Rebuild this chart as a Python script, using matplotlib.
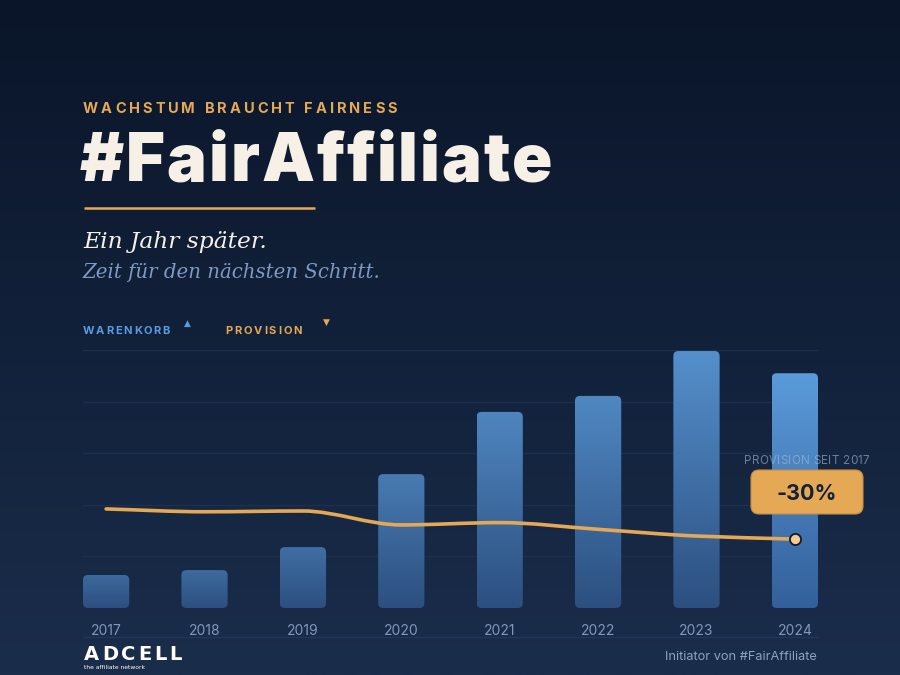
import numpy as np
import matplotlib
matplotlib.use("Agg")
import matplotlib.pyplot as plt
from matplotlib.patches import FancyBboxPatch, PathPatch
from matplotlib.path import Path
from matplotlib.colors import LinearSegmentedColormap, to_rgb

# Daten (Index: 2023 = ~100)
years = ['2017', '2018', '2019', '2020', '2021', '2022', '2023', '2024']
warenkorb = [12.8, 14.7, 23.6, 51.9, 76.0, 82.2, 99.6, 91.0]
provision = [38.4, 37.3, 37.6, 32.2, 33.1, 30.5, 27.9, 26.7]

W, H = 900, 675
BG_TOP, BG_BOT = '#0a1529', '#1a2d4b'
ORANGE = '#e5a855'
CREAM = '#f6f0e6'
BLUE_TXT = '#5b9be0'
SANS = ['Inter', 'DejaVu Sans']

fig = plt.figure(figsize=(9, 6.75), dpi=100)

# Hintergrund mit Verlauf
bg = fig.add_axes([0, 0, 1, 1], zorder=0)
grad = np.linspace(0, 1, 256).reshape(-1, 1)
bg.imshow(grad, extent=[0, 1, 0, 1], aspect='auto', origin='upper',
          cmap=LinearSegmentedColormap.from_list('bg', [BG_TOP, BG_BOT]))
bg.axis('off')

# Diagramm-Achse (Pixelpositionen der Vorlage)
left, right, top, base = 83, 818, 350, 608
ax = fig.add_axes([left / W, (H - base) / H, (right - left) / W, (base - top) / H],
                  zorder=1)
ax.patch.set_alpha(0)
for s in ax.spines.values():
    s.set_visible(False)
ax.set_xticks([])
ax.set_yticks([])

bw = 0.47
x = np.arange(len(years))
xlim = (-bw / 2, len(years) - 1 + bw / 2)
ylim = (0, 100)

for v in range(0, 101, 20):
    ax.axhline(v, color='#1d2f4e', lw=1, zorder=0)

# Balken mit abgerundeten Ecken + Verlauf
px_x = (xlim[1] - xlim[0]) / (right - left)
px_y = (ylim[1] - ylim[0]) / (base - top)
asp = px_y / px_x
low_top, high_top, bot = to_rgb('#3a6496'), to_rgb('#5590cc'), to_rgb('#2c4f80')
for i, v in enumerate(warenkorb):
    if i == len(years) - 1:
        c_top, c_bot = to_rgb('#5b9bdb'), to_rgb('#33609a')
    else:
        f = v / 100
        c_top = tuple(a + (b - a) * f for a, b in zip(low_top, high_top))
        c_bot = bot
    patch = FancyBboxPatch((i - bw / 2, 0), bw, v,
                           boxstyle=f"round,pad=0,rounding_size={5 * px_x}",
                           mutation_aspect=asp, fc='none', ec='none', zorder=2)
    ax.add_patch(patch)
    cm = LinearSegmentedColormap.from_list(f'b{i}', [c_bot, c_top])
    im = ax.imshow(grad, extent=[i - bw / 2, i + bw / 2, 0, v], origin='lower',
                   aspect='auto', cmap=cm, zorder=2)
    im.set_clip_path(patch)

# Provisionslinie als monotone Kurve (Bezier)
y = np.array(provision)
d = np.diff(y)
m = np.zeros_like(y)
m[0], m[-1] = d[0], d[-1]
for k in range(1, len(y) - 1):
    if d[k - 1] * d[k] > 0:
        m[k] = 2 / (1 / d[k - 1] + 1 / d[k])
verts = [(x[0], y[0])]
codes = [Path.MOVETO]
for k in range(len(y) - 1):
    verts += [(x[k] + 1 / 3, y[k] + m[k] / 3),
              (x[k + 1] - 1 / 3, y[k + 1] - m[k + 1] / 3),
              (x[k + 1], y[k + 1])]
    codes += [Path.CURVE4] * 3
ax.add_patch(PathPatch(Path(verts, codes), fc='none', ec=ORANGE, lw=2.6,
                       capstyle='round', zorder=4))
ax.plot(x[-1], y[-1], 'o', ms=8, mfc='#f7cd8f', mec='#111a2c', mew=1.3,
        zorder=6, clip_on=False)

ax.set_xlim(*xlim)
ax.set_ylim(*ylim)

# Overlay in Pixelkoordinaten für Texte
ov = fig.add_axes([0, 0, 1, 1], zorder=2)
ov.set_xlim(0, W)
ov.set_ylim(H, 0)
ov.axis('off')
ov.patch.set_alpha(0)
renderer = fig.canvas.get_renderer()


def text_w(s, **kw):
    t = ov.text(0, 0, s, **kw)
    w = t.get_window_extent(renderer=renderer).width
    t.remove()
    return w


def spaced(x0, y0, s, target_w, **kw):
    """Text mit Sperrung, auf Zielbreite gestreckt."""
    sp_w = text_w('a a', **kw) - text_w('aa', **kw)
    widths = [sp_w if ch == ' ' else text_w(ch, **kw) for ch in s]
    gap = (target_w - sum(widths)) / (len(s) - 1)
    xx = x0
    for ch, w in zip(s, widths):
        if ch != ' ':
            ov.text(xx, y0, ch, va='baseline', ha='left', **kw)
        xx += w + gap


spaced(83, 113, 'WACHSTUM BRAUCHT FAIRNESS', 314,
       fontsize=10.5, fontweight='bold', color=ORANGE, family=SANS)
spaced(80, 181, '#FairAffiliate', 472,
       fontsize=48, fontweight='black', color=CREAM, family=SANS)
ov.plot([84, 315], [208, 208], color=ORANGE, lw=1.8, solid_capstyle='butt')

ov.text(83, 248, 'Ein Jahr später.', fontsize=16.8, style='italic',
        family=['DejaVu Serif'], color=CREAM, va='baseline')
ov.text(83, 278, 'Zeit für den nächsten Schritt.', fontsize=14.2, style='italic',
        family=['DejaVu Serif'], color='#7d99c4', va='baseline')

# Legende
spaced(83, 334, 'WARENKORB', 87, fontsize=8, fontweight='bold',
       color=BLUE_TXT, family=SANS)
ov.text(187, 323, '▲', fontsize=6.5, color=BLUE_TXT, ha='center', va='center',
        family=['DejaVu Sans'])
spaced(225, 334, 'PROVISION', 77, fontsize=8, fontweight='bold',
       color=ORANGE, family=SANS)
ov.text(326, 322, '▼', fontsize=6.5, color=ORANGE, ha='center', va='center',
        family=['DejaVu Sans'])

# Jahre und Grundlinie
x_px = left + (x - xlim[0]) / (xlim[1] - xlim[0]) * (right - left)
for xp, yr in zip(x_px, years):
    ov.text(xp, 635, yr, fontsize=10, color='#8397b8', ha='center',
            va='baseline', family=SANS)
ov.plot([83, 818], [637, 637], color='#22365a', lw=1)

# Annotation
spaced(744, 464, 'PROVISION SEIT 2017', 125, fontsize=8.4, color='#a8bcd8',
       alpha=0.6, family=SANS)
ov.add_patch(FancyBboxPatch((751, 470), 112, 44,
                            boxstyle='round,pad=0,rounding_size=8',
                            fc=ORANGE, ec='#c48c42', lw=0.8, zorder=5))
ov.text(807, 500, '-30%', fontsize=15.5, fontweight='bold', color='#13203a',
        ha='center', va='baseline', family=SANS, zorder=6)

# Fußzeile
spaced(84, 660, 'ADCELL', 98, fontsize=14, fontweight='bold', color='white',
       family=['DejaVu Sans'])
ov.text(84, 669, 'the affiliate network', fontsize=4.3, color='white',
        va='baseline', family=['DejaVu Sans'])
ov.text(817, 660, 'Initiator von #FairAffiliate', fontsize=9.2, color='#8ea2c2',
        ha='right', va='baseline', family=SANS)

fig.savefig('out.png', dpi=100)
